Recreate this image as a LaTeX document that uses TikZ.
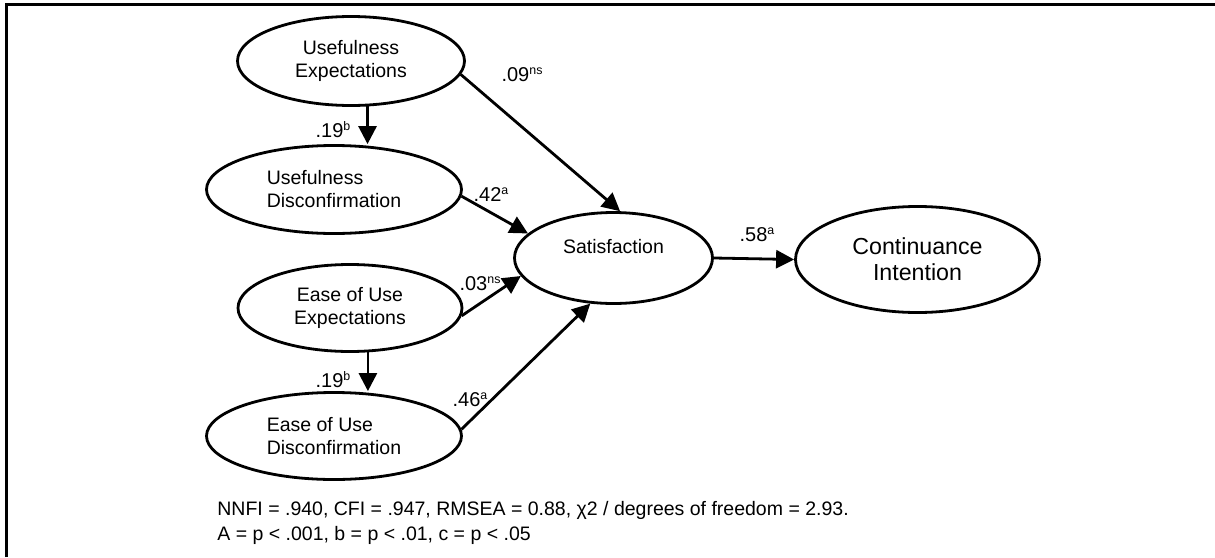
\documentclass[tikz,border=0pt]{standalone}
\usepackage{fontspec}
\setmainfont{Liberation Sans}
\usetikzlibrary{shapes.geometric,arrows.meta}

\newcommand{\pval}[1]{\raisebox{3.6pt}{\fontsize{6.2}{6.2}\selectfont#1}}

\begin{document}
\begin{tikzpicture}[x=0.5pt, y=-0.5pt,
    latent/.style={ellipse, draw, line width=1.4pt, inner sep=0pt, align=center,
      font=\fontsize{9.75}{11.5}\selectfont},
    effect/.style={line width=1.4pt, -{Triangle[length=9pt,width=9pt]}},
    coef/.style={inner sep=0pt, font=\fontsize{10}{11}\selectfont}]
    \useasboundingbox (0,0) rectangle (1215,557);

    % Frame (only top and left edges show)
    \draw[line width=1.5pt] (6.5,557) -- (6.5,4) -- (1215,4);

    % Constructs
    \node[latent, minimum width=113.5pt, minimum height=44.5pt] (ue) at (351,61) {Usefulness\\Expectations};
    \node[latent, align=left, minimum width=127.5pt, minimum height=44pt] (ud) at (334,189.5) {Usefulness\\Disconfirmation};
    \node[latent, minimum width=99pt, minimum height=45.5pt] (sat) at (613.5,258) {Satisfaction\\~};
    \node[latent, font=\fontsize{11.6}{13}\selectfont, minimum width=122pt, minimum height=53pt] (ci) at (917.5,259.5) {Continuance\\Intention};
    \node[latent, minimum width=112pt, minimum height=43.5pt] (eue) at (350,308) {Ease of Use\\Expectations};
    \node[latent, align=left, minimum width=127.5pt, minimum height=43.5pt] (eud) at (334,436) {Ease of Use\\Disconfirmation};

    % Paths
    \draw[effect] (ue.-70) -- (ue.-70 |- ud.north);
    \draw[effect] (ue.-7) -- (sat.82);
    \draw[effect] (ud.-3) -- (sat.164);
    \draw[effect] (eue.-4) -- (sat.191);
    \draw[effect] (eud.3) -- (sat.243);
    \draw[effect] (eue.-68) -- (eue.-68 |- eud.north);
    \draw[effect] (sat.east) -- (ci.west);

    % Coefficients
    \node[coef] (c1) at (333,130) {.19\pval{b}};
    \node[coef] (c2) at (522,75) {.09\pval{ns}};
    \node[coef] (c3) at (491,195) {.42\pval{a}};
    \node[coef] (c4) at (480,284) {.03\pval{ns}};
    \node[coef] (c5) at (333,380) {.19\pval{b}};
    \node[coef] (c6) at (470,400) {.46\pval{a}};
    \node[coef] (c7) at (757,235) {.58\pval{a}};

    % Fit indices
    \node[anchor=west, align=left, inner sep=0pt, font=\fontsize{9.75}{12.5}\selectfont] (fit) at (217,522.5)
      {NNFI = .940, CFI = .947, RMSEA = 0.88, χ2 / degrees of freedom = 2.93.\\A = p < .001, b = p < .01, c = p < .05};
\end{tikzpicture}
\end{document}
